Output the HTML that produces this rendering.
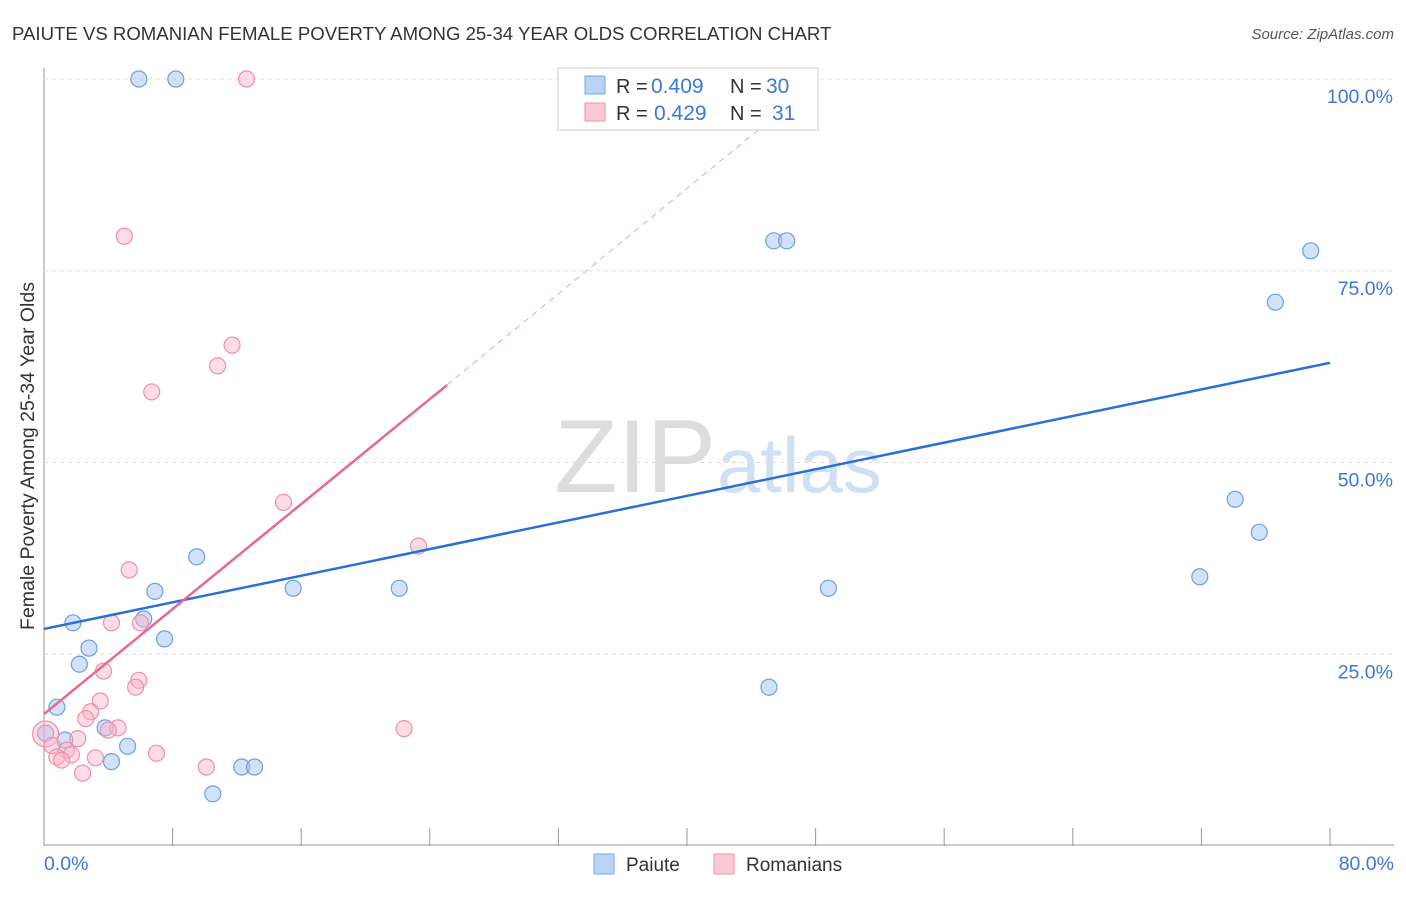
<!DOCTYPE html>
<html><head><meta charset="utf-8"><style>
body{margin:0;background:#fff;font-family:"Liberation Sans",sans-serif;}
svg text{font-family:"Liberation Sans",sans-serif;}
</style></head><body>
<svg id="c" width="1406" height="892">
<text x="12" y="40" font-size="18.6" fill="#333">PAIUTE VS ROMANIAN FEMALE POVERTY AMONG 25-34 YEAR OLDS CORRELATION CHART</text>
<text x="1394" y="39" font-size="15" fill="#555" font-style="italic" text-anchor="end">Source: ZipAtlas.com</text>
<text x="716" y="492" font-size="104" fill="#ddd" font-family="Liberation Serif" text-anchor="end">ZIP</text>
<text x="717" y="492" font-size="78" fill="#cfe0f3">atlas</text>
<text transform="translate(34,456) rotate(-90)" font-size="19.5" fill="#333" text-anchor="middle">Female Poverty Among 25-34 Year Olds</text>
<g id="grid"></g><g id="pts"></g>
<g>
<rect x="558" y="68" width="260" height="62" fill="#fff" stroke="#ccc"/>
<rect x="585" y="76" width="20" height="18" fill="#b9d3f5" stroke="#7aa7e0"/>
<rect x="585" y="103" width="20" height="18" fill="#fbc8d6" stroke="#f08fab"/>
<text x="616" y="93" font-size="20" fill="#333">R = </text><text x="651" y="93" font-size="21" fill="#3b78d8">0.409</text>
<text x="730" y="93" font-size="20" fill="#333">N =</text><text x="766" y="93" font-size="21" fill="#3b78d8">30</text>
<text x="616" y="120" font-size="20" fill="#333">R = </text><text x="654" y="120" font-size="21" fill="#3b78d8">0.429</text>
<text x="730" y="120" font-size="20" fill="#333">N =</text><text x="772" y="120" font-size="21" fill="#3b78d8">31</text>
</g>
<g>
<rect x="594" y="854" width="20" height="20" fill="#b9d3f5" stroke="#7aa7e0"/>
<text x="626" y="871" font-size="19" fill="#333">Paiute</text>
<rect x="714" y="854" width="20" height="20" fill="#fbc8d6" stroke="#f08fab"/>
<text x="746" y="871" font-size="19" fill="#333">Romanians</text>
</g>
</svg>
<script>
const xTicks=[0,8,16,24,32,40,48,56,64,72,80];
const yTicks=[25,50,75,100];
const paiuteX=[5.9,8.2,34.6,45.4,46.2,78.8,76.6,74.1,75.6,71.9,48.8,45.1,22.1,15.5,9.5,6.9,6.2,7.5,1.8,2.8,2.2,0.8,1.3,0.1,3.8,5.2,4.2,12.3,13.1,10.5];
const paiuteY=[100,100,99.7,78.9,78.9,77.6,70.9,45.2,40.9,35.1,33.6,20.7,33.6,33.6,37.7,33.2,29.6,27.0,29.1,25.8,23.7,18.1,13.8,14.7,15.4,13.0,11.0,10.3,10.3,6.8];
const romX=[12.6,5.0,11.7,10.8,6.7,14.9,23.3,5.3,4.2,6.0,3.7,5.9,5.7,3.5,2.9,2.6,4.6,4.0,22.4,2.1,0.1,0.5,1.4,1.7,3.2,7.0,0.8,1.1,10.1,2.4];
const romY=[100,79.5,65.3,62.6,59.2,44.8,39.1,36.0,29.1,29.1,22.8,21.6,20.7,18.9,17.5,16.6,15.4,15.1,15.3,14.0,14.6,13.1,12.5,11.9,11.5,12.1,11.6,11.2,10.3,9.5];
const blueTrend=[[0,28.3],[80,63.0]];
const pinkTrend=[[0,17.2],[25.07,60.1],[48.3,100]];
const X=v=>44+v*16.075, Y=v=>846-v*7.67;
const NS="http://www.w3.org/2000/svg";
function mk(p,t,a){const e=document.createElementNS(NS,t);for(const k in a)e.setAttribute(k,a[k]);p.appendChild(e);return e;}
const g=document.getElementById('grid'),P=document.getElementById('pts');
let ax=mk(g,'line',{x1:44,y1:68,x2:44,y2:846,stroke:'#999'});


ax=mk(g,'line',{x1:44,y1:845,x2:1394,y2:845,stroke:'#999'});


yTicks.forEach(v=>{const l=mk(g,'line',{x1:44,x2:1394,y1:Y(v),y2:Y(v),stroke:'#ddd','stroke-dasharray':'4,4'});


const t=mk(g,'text',{x:1393,y:Y(v)+24,'font-size':19.5,fill:'#3b78d8','text-anchor':'end'});t.textContent=v.toFixed(1)+'%';

});
xTicks.forEach(v=>{const l=mk(g,'line',{x1:X(v),x2:X(v),y1:828,y2:846,stroke:'#999'});

});
[[0,'start',44],[80,'end',1394]].forEach(([v,a,x])=>{const t=mk(g,'text',{x:x,y:870,'font-size':19.5,fill:'#3b78d8','text-anchor':a});t.textContent=v.toFixed(1)+'%';

});
paiuteX.forEach((x,i)=>{const c=mk(P,'circle',{cx:X(x),cy:Y(paiuteY[i]),r:8,fill:'rgba(164,196,240,0.5)',stroke:'#6e9fe0','stroke-width':1.2});

});
romX.forEach((x,i)=>{const c=mk(P,'circle',{cx:X(x),cy:Y(romY[i]),r:i==20?13:8,fill:'rgba(248,180,200,0.45)',stroke:'#f08fab','stroke-width':1.2});

});
let l=mk(P,'line',{x1:X(blueTrend[0][0]),y1:Y(blueTrend[0][1]),x2:X(blueTrend[1][0]),y2:Y(blueTrend[1][1]),stroke:'#2a6fd6','stroke-width':2.5});


l=mk(P,'line',{x1:X(pinkTrend[0][0]),y1:Y(pinkTrend[0][1]),x2:X(pinkTrend[1][0]),y2:Y(pinkTrend[1][1]),stroke:'#e8688f','stroke-width':2.5});


l=mk(P,'line',{x1:X(pinkTrend[1][0]),y1:Y(pinkTrend[1][1]),x2:X(pinkTrend[2][0]),y2:Y(pinkTrend[2][1]),stroke:'#f0a0b8','stroke-width':1,'stroke-dasharray':'6,5'});


</script>
</body></html>
